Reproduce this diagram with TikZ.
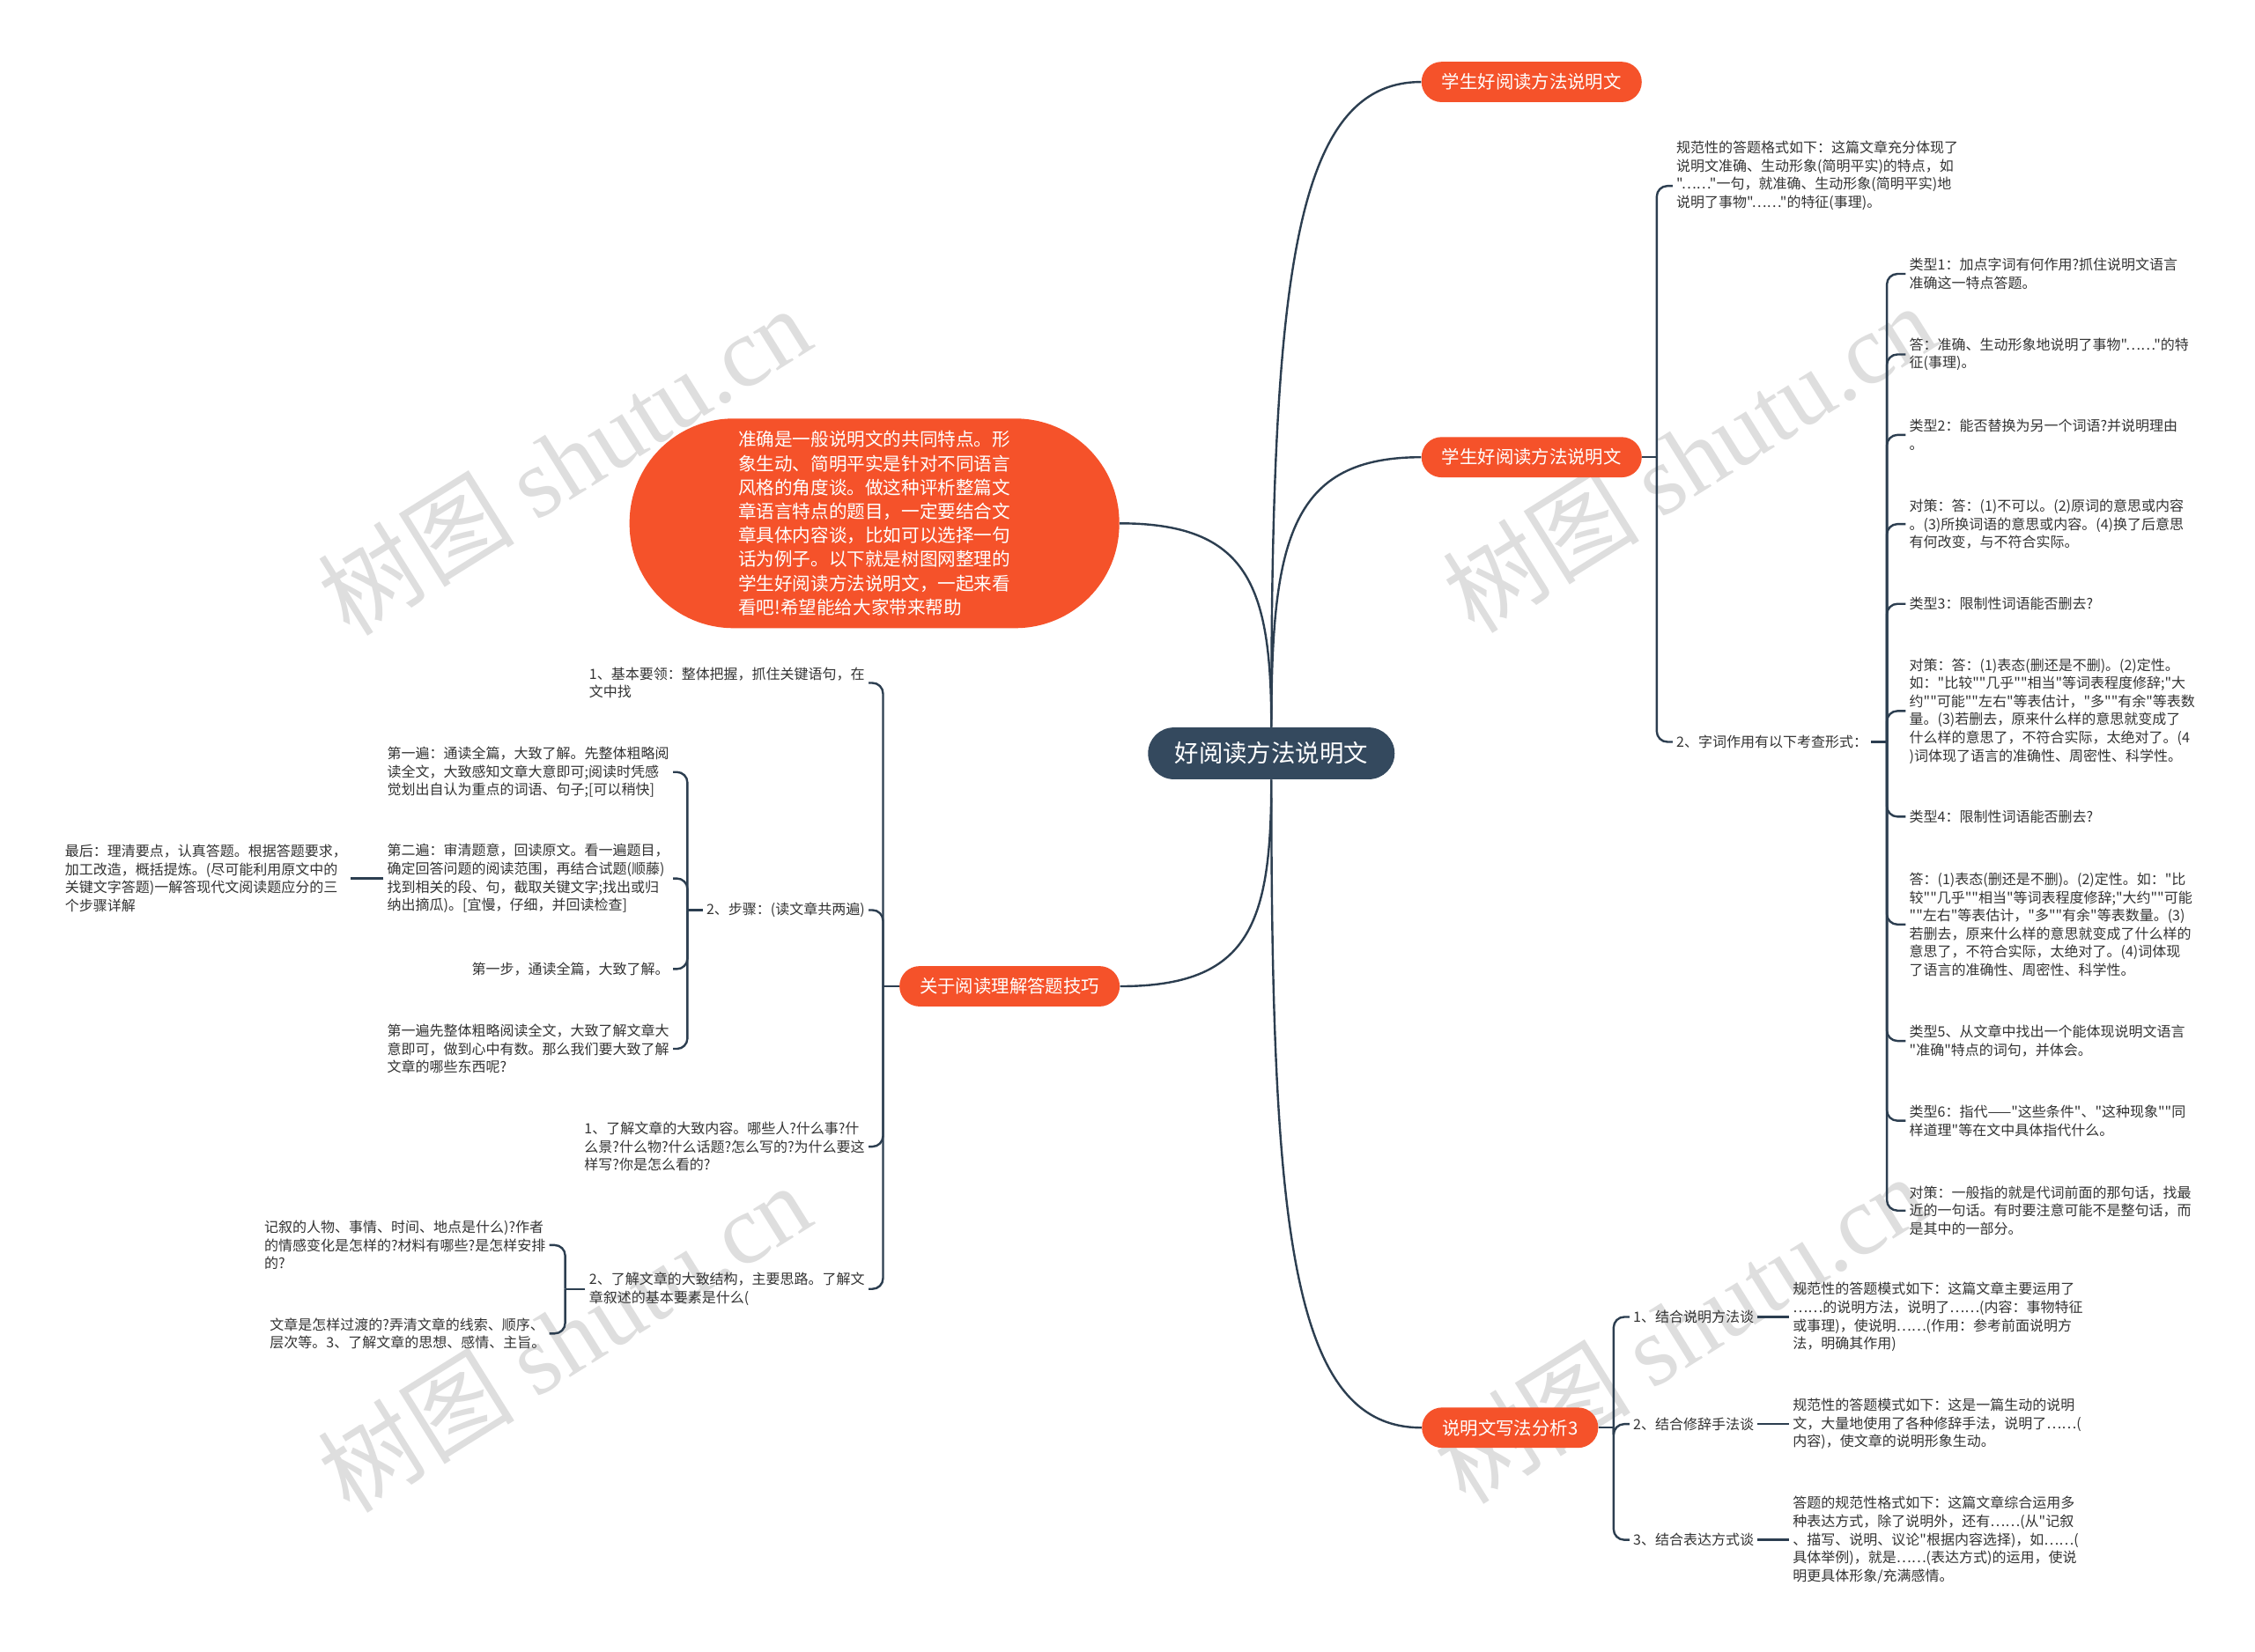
\documentclass[tikz,border=0pt]{standalone}
\usepackage{fontspec}
\setmainfont{Noto Sans CJK SC}[Ligatures=TeXOff]
\newfontfamily\wmfont{Liberation Serif}
\usetikzlibrary{positioning}
\definecolor{RootSlate}{RGB}{52,73,94}
\definecolor{TopicOrange}{RGB}{245,82,42}
\definecolor{LinkDark}{RGB}{44,62,80}
\definecolor{LeafText}{RGB}{51,51,51}
\definecolor{MarkGray}{RGB}{222,222,222}

\begin{document}
\begin{tikzpicture}[x=0.8164pt, y=-0.8164pt,
        rootbox/.style={fill=RootSlate, text=white, rounded corners=14.7pt, minimum width=140pt,
                                minimum height=29.4pt, font=\fontsize{13.7}{16}\selectfont},
        topicbox/.style={fill=TopicOrange, text=white, rounded corners=11.4pt, minimum height=22.9pt,
                                inner xsep=11.5pt, font=\fontsize{10.2}{12}\selectfont},
        leafnote/.style={text=LeafText, align=left, inner sep=2pt, font=\fontsize{8}{10.3}\selectfont},
        linkline/.style={draw=LinkDark, line width=1.2pt, rounded corners=6pt},
        wmtext/.style={text=MarkGray, rotate=32, font=\fontsize{56}{60}\selectfont}
]
    \fill[white] (0,0) rectangle (1568,1149);
    \useasboundingbox (0,0) rectangle (1568,1149);

    \node[wmtext] (wm1) at (392,320)  {树图 {\wmfont shutu.cn}};
    \node[wmtext] (wm2) at (1174,318) {树图 {\wmfont shutu.cn}};
    \node[wmtext] (wm3) at (392,930)  {树图 {\wmfont shutu.cn}};
    \node[wmtext] (wm4) at (1168,924) {树图 {\wmfont shutu.cn}};

    \node[rootbox] (root) at (884,524) {好阅读方法说明文};
    \node[topicbox] (read1) at (1065,57)  {学生好阅读方法说明文};
    \node[topicbox] (read2) at (1065,318) {学生好阅读方法说明文};
    \node[topicbox] (write) at (1050,993) {说明文写法分析3};
    \node[topicbox] (skill) at (702,686)  {关于阅读理解答题技巧};
    \node[fill=TopicOrange, text=white, rounded corners=59pt, minimum width=278pt, minimum height=119pt,
          align=left, font=\fontsize{10.3}{13.6}\selectfont] (intro) at (608,364)
          {准确是一般说明文的共同特点。形\\象生动、简明平实是针对不同语言\\风格的角度谈。做这种评析整篇文\\章语言特点的题目，一定要结合文\\章具体内容谈，比如可以选择一句\\话为例子。以下就是树图网整理的\\学生好阅读方法说明文，一起来看\\看吧!希望能给大家带来帮助};

    \draw[linkline] (root.north) .. controls +(0,-314) and +(-88,0) .. (read1.west);
    \draw[linkline] (root.north) .. controls +(0,-132) and +(-90,0) .. (read2.west);
    \draw[linkline] (root.north) .. controls +(0,-99) and +(89,0) .. (intro.east);
    \draw[linkline] (root.south) .. controls +(0,101) and +(90,0) .. (skill.east);
    \draw[linkline] (root.south) .. controls +(0,316) and +(-90,0) .. (write.west);

    \node[leafnote, anchor=west] (fmt) at (1163,122) {规范性的答题格式如下：这篇文章充分体现了\\说明文准确、生动形象(简明平实)的特点，如\\"……"一句，就准确、生动形象(简明平实)地\\说明了事物"……"的特征(事理)。};
    \node[leafnote, anchor=west] (word) at (1163,516) {2、字词作用有以下考查形式：};
    \coordinate (jread) at (1152,318);
    \draw[linkline] (read2.east) -- (jread);
    \draw[linkline] (jread) |- ([yshift=-6pt]fmt.west);
    \draw[linkline] (jread) |- (word.west);

    \node[leafnote, anchor=west] (ty1) at (1325,190.5) {类型1：加点字词有何作用?抓住说明文语言\\准确这一特点答题。};
    \node[leafnote, anchor=west] (ty2) at (1325,246.5) {答：准确、生动形象地说明了事物"……"的特\\征(事理)。};
    \node[leafnote, anchor=west] (ty3) at (1325,302.5) {类型2：能否替换为另一个词语?并说明理由\\。};
    \node[leafnote, anchor=west] (ty4) at (1325,364.5) {对策：答：(1)不可以。(2)原词的意思或内容\\。(3)所换词语的意思或内容。(4)换了后意思\\有何改变，与不符合实际。};
    \node[leafnote, anchor=west] (ty5) at (1325,420) {类型3：限制性词语能否删去?};
    \node[leafnote, anchor=west] (ty6) at (1325,494.5) {对策：答：(1)表态(删还是不删)。(2)定性。\\如："比较""几乎""相当"等词表程度修辞;"大\\约""可能""左右"等表估计，"多""有余"等表数\\量。(3)若删去，原来什么样的意思就变成了\\什么样的意思了，不符合实际，太绝对了。(4\\)词体现了语言的准确性、周密性、科学性。};
    \node[leafnote, anchor=west] (ty7) at (1325,568) {类型4：限制性词语能否删去?};
    \node[leafnote, anchor=west] (ty8) at (1325,643) {答：(1)表态(删还是不删)。(2)定性。如："比\\较""几乎""相当"等词表程度修辞;"大约""可能\\""左右"等表估计，"多""有余"等表数量。(3)\\若删去，原来什么样的意思就变成了什么样的\\意思了，不符合实际，太绝对了。(4)词体现\\了语言的准确性、周密性、科学性。};
    \node[leafnote, anchor=west] (ty9) at (1325,724) {类型5、从文章中找出一个能体现说明文语言\\"准确"特点的词句，并体会。};
    \node[leafnote, anchor=west] (ty10) at (1325,779.5) {类型6：指代——"这些条件"、"这种现象""同\\样道理"等在文中具体指代什么。};
    \node[leafnote, anchor=west] (ty11) at (1325,842) {对策：一般指的就是代词前面的那句话，找最\\近的一句话。有时要注意可能不是整句话，而\\是其中的一部分。};
    \coordinate (jword) at (1312,516);
    \draw[linkline] (word.east) -- (jword);
    \draw[linkline] (jword) |- (ty1.west);
    \draw[linkline] (jword) |- (ty2.west);
    \draw[linkline] (jword) |- (ty3.west);
    \draw[linkline] (jword) |- (ty4.west);
    \draw[linkline] (jword) |- (ty5.west);
    \draw[linkline] (jword) |- (ty6.west);
    \draw[linkline] (jword) |- (ty7.west);
    \draw[linkline] (jword) |- (ty8.west);
    \draw[linkline] (jword) |- (ty9.west);
    \draw[linkline] (jword) |- (ty10.west);
    \draw[linkline] (jword) |- (ty11.west);

    \node[leafnote, anchor=west] (way1) at (1133,916) {1、结合说明方法谈};
    \node[leafnote, anchor=west] (way2) at (1133,990.5) {2、结合修辞手法谈};
    \node[leafnote, anchor=west] (way3) at (1133,1071) {3、结合表达方式谈};
    \node[leafnote, anchor=west] (ans1) at (1244,916) {规范性的答题模式如下：这篇文章主要运用了\\……的说明方法，说明了……(内容：事物特征\\或事理)，使说明……(作用：参考前面说明方\\法，明确其作用)};
    \node[leafnote, anchor=west] (ans2) at (1244,990.5) {规范性的答题模式如下：这是一篇生动的说明\\文，大量地使用了各种修辞手法，说明了……(\\内容)，使文章的说明形象生动。};
    \node[leafnote, anchor=west] (ans3) at (1244,1071) {答题的规范性格式如下：这篇文章综合运用多\\种表达方式，除了说明外，还有……(从"记叙\\、描写、说明、议论"根据内容选择)，如……(\\具体举例)，就是……(表达方式)的运用，使说\\明更具体形象/充满感情。};
    \coordinate (jwrite) at (1122,993);
    \draw[linkline] (write.east) -- (jwrite);
    \draw[linkline] (jwrite) |- (way1.west);
    \draw[linkline] (jwrite) |- (way2.west);
    \draw[linkline] (jwrite) |- (way3.west);
    \draw[linkline] (way1) -- (ans1);
    \draw[linkline] (way2) -- (ans2);
    \draw[linkline] (way3) -- (ans3);

    \node[leafnote, anchor=east] (key) at (604,475) {1、基本要领：整体把握，抓住关键语句，在\\文中找};
    \node[leafnote, anchor=east] (steps) at (604,633) {2、步骤：(读文章共两遍)};
    \node[leafnote, anchor=east] (know1) at (604,797.5) {1、了解文章的大致内容。哪些人?什么事?什\\么景?什么物?什么话题?怎么写的?为什么要这\\样写?你是怎么看的?};
    \node[leafnote, anchor=east] (know2) at (604,896.5) {2、了解文章的大致结构，主要思路。了解文\\章叙述的基本要素是什么(};
    \coordinate (jskill) at (614,686);
    \draw[linkline] (skill.west) -- (jskill);
    \draw[linkline] (jskill) |- (key.east);
    \draw[linkline] (jskill) |- (steps.east);
    \draw[linkline] (jskill) |- (know1.east);
    \draw[linkline] (jskill) |- (know2.east);

    \node[leafnote, anchor=east] (pass1) at (468,537) {第一遍：通读全篇，大致了解。先整体粗略阅\\读全文，大致感知文章大意即可;阅读时凭感\\觉划出自认为重点的词语、句子;[可以稍快]};
    \node[leafnote, anchor=east] (pass2) at (468,611) {第二遍：审清题意，回读原文。看一遍题目，\\确定回答问题的阅读范围，再结合试题(顺藤)\\找到相关的段、句，截取关键文字;找出或归\\纳出摘瓜)。[宜慢，仔细，并回读检查]};
    \node[leafnote, anchor=east] (first) at (468,674) {第一步，通读全篇，大致了解。};
    \node[leafnote, anchor=east] (rough) at (468,729.5) {第一遍先整体粗略阅读全文，大致了解文章大\\意即可，做到心中有数。那么我们要大致了解\\文章的哪些东西呢?};
    \node[leafnote, anchor=east] (last) at (244,611) {最后：理清要点，认真答题。根据答题要求，\\加工改造，概括提炼。(尽可能利用原文中的\\关键文字答题)一解答现代文阅读题应分的三\\个步骤详解};
    \coordinate (jsteps) at (478,633);
    \draw[linkline] (steps.west) -- (jsteps);
    \draw[linkline] (jsteps) |- (pass1.east);
    \draw[linkline] (jsteps) |- (pass2.east);
    \draw[linkline] (jsteps) |- (first.east);
    \draw[linkline] (jsteps) |- (rough.east);
    \draw[linkline] (pass2) -- (last);

    \node[leafnote, anchor=east] (who) at (382,866) {记叙的人物、事情、时间、地点是什么)?作者\\的情感变化是怎样的?材料有哪些?是怎样安排\\的?};
    \node[leafnote, anchor=east] (flow) at (382,927.5) {文章是怎样过渡的?弄清文章的线索、顺序、\\层次等。3、了解文章的思想、感情、主旨。};
    \coordinate (jknow) at (393,896.5);
    \draw[linkline] (know2.west) -- (jknow);
    \draw[linkline] (jknow) |- (who.east);
    \draw[linkline] (jknow) |- (flow.east);
\end{tikzpicture}
\end{document}
